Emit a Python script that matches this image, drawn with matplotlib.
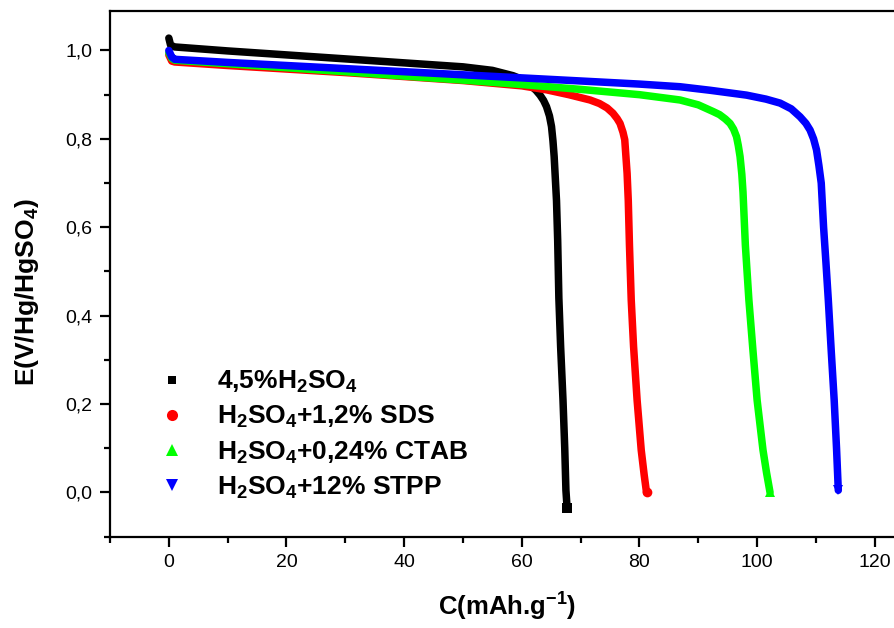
import matplotlib
matplotlib.use("Agg")
import matplotlib.pyplot as plt
from matplotlib.lines import Line2D
from matplotlib.ticker import MultipleLocator, FixedLocator, FixedFormatter

plt.rcParams['font.family'] = ['Liberation Sans', 'DejaVu Sans']
plt.rcParams['mathtext.fontset'] = 'custom'
plt.rcParams['mathtext.rm'] = 'Liberation Sans:bold'
plt.rcParams['mathtext.bf'] = 'Liberation Sans:bold'
plt.rcParams['mathtext.it'] = 'Liberation Sans:bold'
plt.rcParams['mathtext.default'] = 'bf'

# Discharge curves: capacity C (mAh/g) vs potential E (V vs Hg/HgSO4)
c_h2so4 = [0.0, 0.3, 1.0, 10, 20, 30, 40, 50, 55, 58.5, 60.0, 61.4, 62.4,
           63.1, 63.7, 64.2, 64.7, 65.05, 65.3, 65.5, 65.7, 65.9, 66.1,
           66.3, 66.6, 67.0, 67.3, 67.5, 67.7]
e_h2so4 = [1.028, 1.012, 1.008, 0.999, 0.990, 0.981, 0.972, 0.963, 0.955,
           0.943, 0.935, 0.922, 0.910, 0.899, 0.887, 0.873, 0.852, 0.828,
           0.795, 0.760, 0.710, 0.660, 0.570, 0.440, 0.330, 0.210, 0.100,
           0.005, -0.035]

c_sds = [0.0, 0.5, 1.0, 10, 20, 30, 40, 50, 60, 64.2, 68, 71.6, 73.2, 74.5,
         75.5, 76.2, 76.7, 77.2, 77.5, 77.7, 77.9, 78.1, 78.3, 78.6, 79.0,
         79.6, 80.3, 80.8, 81.2]
e_sds = [0.990, 0.976, 0.974, 0.966, 0.958, 0.950, 0.941, 0.932, 0.920,
         0.911, 0.900, 0.888, 0.880, 0.870, 0.858, 0.846, 0.835, 0.815,
         0.798, 0.760, 0.722, 0.660, 0.560, 0.436, 0.330, 0.209, 0.096,
         0.040, 0.000]

c_ctab = [0.0, 0.5, 1.0, 10, 20, 30, 40, 50, 60, 70, 80, 86.9, 90, 92.5,
          93.6, 94.6, 95.4, 96.0, 96.5, 96.8, 97.1, 97.4, 97.6, 98.0, 98.6,
          99.3, 100.0, 101.0, 101.6, 102.2]
e_ctab = [0.995, 0.982, 0.978, 0.970, 0.961, 0.952, 0.942, 0.933, 0.923,
          0.912, 0.900, 0.888, 0.877, 0.862, 0.855, 0.845, 0.835, 0.822,
          0.805, 0.785, 0.760, 0.720, 0.680, 0.560, 0.436, 0.320, 0.209,
          0.096, 0.045, 0.000]

c_stpp = [0.0, 0.5, 1.0, 10, 20, 30, 40, 50, 60, 70, 80, 86.9, 92.0, 98.2,
          101.5, 103.9, 105.8, 107.3, 108.3, 109.0, 109.6, 110.1, 110.5,
          110.9, 111.3, 111.7, 112.1, 112.6, 113.1, 113.5, 113.8]
e_stpp = [1.000, 0.985, 0.980, 0.973, 0.966, 0.959, 0.952, 0.945, 0.938,
          0.931, 0.924, 0.918, 0.910, 0.899, 0.890, 0.881, 0.868, 0.850,
          0.835, 0.820, 0.800, 0.775, 0.740, 0.700, 0.600, 0.520, 0.436,
          0.320, 0.209, 0.100, 0.005]

series = [
    (c_h2so4, e_h2so4, '#000000', 's', r'4,5%H$_2$SO$_4$'),
    (c_sds, e_sds, '#ff0000', 'o', r'H$_2$SO$_4$+1,2% SDS'),
    (c_ctab, e_ctab, '#00ff00', '^', r'H$_2$SO$_4$+0,24% CTAB'),
    (c_stpp, e_stpp, '#0000ff', 'v', r'H$_2$SO$_4$+12% STPP'),
]

y_ticks = [0.0, 0.2, 0.4, 0.6, 0.8, 1.0]
y_tick_labels = ['0,0', '0,2', '0,4', '0,6', '0,8', '1,0']
x_ticks = [0, 20, 40, 60, 80, 100, 120]

W, H = 894, 628
fig = plt.figure(figsize=(W / 100, H / 100), dpi=100)
ax_left, ax_top, ax_bottom = 110, 10.7, 536.7
ax_width = 823.6
ax = fig.add_axes([ax_left / W, (H - ax_bottom) / H, ax_width / W,
                   (ax_bottom - ax_top) / H])

for c, e, col, mk, lab in series:
    ax.plot(c, e, color=col, lw=5.4, solid_capstyle='round',
            solid_joinstyle='round', marker=mk, markevery=[len(c) - 1],
            markersize=7, markeredgewidth=0)

ax.set_xlim(-10, 130)
ax.set_ylim(-0.1, 1.09)

ax.xaxis.set_major_locator(FixedLocator(x_ticks))
ax.xaxis.set_major_formatter(FixedFormatter([str(t) for t in x_ticks]))
ax.xaxis.set_minor_locator(MultipleLocator(10))
ax.yaxis.set_major_locator(FixedLocator(y_ticks))
ax.yaxis.set_major_formatter(FixedFormatter(y_tick_labels))
ax.yaxis.set_minor_locator(MultipleLocator(0.1))

ax.tick_params(which='major', direction='out', length=7.5, width=1.6,
               labelsize=14, pad=5, top=False, right=False)
ax.tick_params(which='minor', direction='out', length=4, width=1.6,
               top=False, right=False)
for s in ax.spines.values():
    s.set_linewidth(1.6)

fig.text(507 / W, 1 - 607 / H, r'C(mAh.g$^{-1}$)', fontsize=18.5,
         fontweight='bold', ha='center', va='center')
fig.text(27 / W, 1 - 292 / H, r'E(V/Hg/HgSO$_4$)', fontsize=19,
         fontweight='bold', ha='center', va='center', rotation=90)

handles = [Line2D([], [], color=col, marker=mk, linestyle='none',
                  markersize=(6 if mk == 's' else 8), markeredgewidth=0)
           for _, _, col, mk, _ in series]
labels = [lab for *_, lab in series]
fig.legend(handles, labels, loc='upper left',
           bbox_to_anchor=(158.5 / W, 1 - 369 / H), frameon=False,
           prop={'weight': 'bold', 'size': 19},
           handlelength=1.0, handletextpad=1.2, borderpad=0,
           borderaxespad=0, labelspacing=0.34)

fig.savefig('out.png', dpi=100)
